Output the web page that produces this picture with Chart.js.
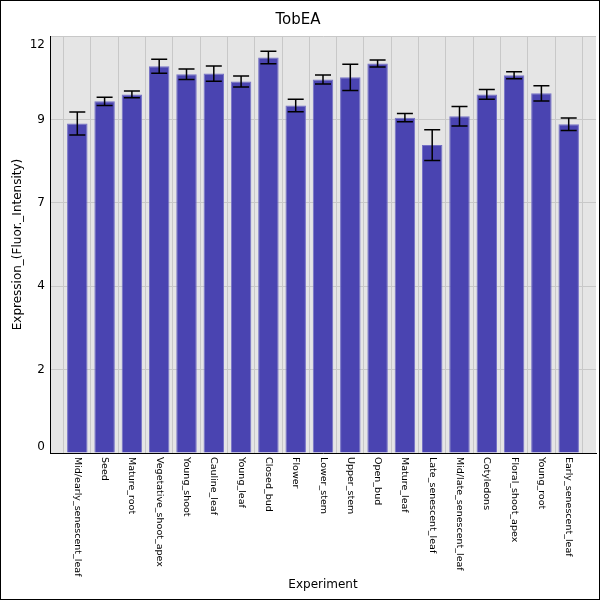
<!DOCTYPE html>
<html>
<head>
<meta charset="utf-8">
<script src="https://cdn.jsdelivr.net/npm/chart.js@4"></script>
<style>
  html, body { margin: 0; padding: 0; background: #fff; }
</style>
</head>
<body>
<canvas id="expression-chart" width="600" height="600"></canvas>
<script>
const experiments = [
    'Mid/early_senescent_leaf', 'Seed', 'Mature_root', 'Vegetative_shoot_apex',
    'Young_shoot', 'Cauline_leaf', 'Young_leaf', 'Closed_bud', 'Flower',
    'Lower_stem', 'Upper_stem', 'Open_bud', 'Mature_leaf', 'Late_senescent_leaf',
    'Mid/late_senescent_leaf', 'Cotyledons', 'Floral_shoot_apex', 'Young_root',
    'Early_senescent_leaf'
];
const expressionValues = [
    9.48, 10.12, 10.32, 11.13, 10.90, 10.92, 10.69, 11.38, 10.00, 10.75,
    10.81, 11.21, 9.65, 8.86, 9.69, 10.32, 10.87, 10.35, 9.46
];
const expressionErrors = [
    0.33, 0.12, 0.10, 0.20, 0.15, 0.22, 0.16, 0.18, 0.18, 0.13,
    0.38, 0.10, 0.12, 0.44, 0.28, 0.14, 0.10, 0.22, 0.18
];
const yTicks = [0, 2.4, 4.8, 7.2, 9.6, 12];

const FONT = 'DejaVu Sans';

// experiments sit at 1..n on a 0..n+1 axis, leaving a free slot at each end
const positions = experiments.map((_, i) => i + 1);

// white page, grey plot area, outer frame
const backdrop = {
    id: 'backdrop',
    beforeDraw(chart) {
        const { ctx, chartArea: a } = chart;
        ctx.save();
        ctx.fillStyle = '#fff';
        ctx.fillRect(0, 0, chart.width, chart.height);
        ctx.fillStyle = '#e5e5e5';
        ctx.fillRect(a.left, a.top, a.right - a.left, a.bottom - a.top);
        ctx.restore();
    },
    afterDraw(chart) {
        const ctx = chart.ctx;
        ctx.save();
        ctx.strokeStyle = '#000';
        ctx.lineWidth = 1;
        ctx.strokeRect(0.5, 0.5, chart.width - 1, chart.height - 1);
        ctx.restore();
    }
};

// tick labels: categories turned clockwise, y values kept inside the plot
const tickLabels = {
    id: 'tickLabels',
    afterDraw(chart) {
        const { ctx, scales: { x, y } } = chart;
        ctx.save();
        ctx.fillStyle = '#000';
        ctx.font = '9.5px "' + FONT + '"';
        ctx.textAlign = 'left';
        ctx.textBaseline = 'middle';
        experiments.forEach((name, i) => {
            ctx.save();
            ctx.translate(x.getPixelForValue(positions[i]), x.top + 4);
            ctx.rotate(Math.PI / 2);
            ctx.fillText(name, 0, 0);
            ctx.restore();
        });

        ctx.font = '12px "' + FONT + '"';
        ctx.textAlign = 'right';
        yTicks.forEach(v => {
            let py = y.getPixelForValue(v);
            py = Math.min(Math.max(py, y.top + 9), y.bottom - 6);
            ctx.fillText(String(Math.floor(v + 1e-9)), y.right - 5, py);
        });
        ctx.restore();
    }
};

const errorBars = {
    id: 'errorBars',
    afterDatasetsDraw(chart) {
        const { ctx, scales: { x, y } } = chart;
        ctx.save();
        ctx.strokeStyle = '#000';
        ctx.lineWidth = 1.5;
        expressionValues.forEach((v, i) => {
            const px = x.getPixelForValue(positions[i]);
            const hi = y.getPixelForValue(v + expressionErrors[i]);
            const lo = y.getPixelForValue(v - expressionErrors[i]);
            ctx.beginPath();
            ctx.moveTo(px, hi);
            ctx.lineTo(px, lo);
            ctx.moveTo(px - 8, hi);
            ctx.lineTo(px + 8, hi);
            ctx.moveTo(px - 8, lo);
            ctx.lineTo(px + 8, lo);
            ctx.stroke();
        });
        ctx.restore();
    }
};

const ctx = document.getElementById('expression-chart').getContext('2d');
const expressionChart = new Chart(ctx, {
    type: 'bar',
    data: {
        datasets: [{
            label: 'TobEA',
            data: expressionValues.map((v, i) => ({ x: positions[i], y: v })),
            backgroundColor: '#4a44b1',
            borderColor: '#7571c6',
            borderWidth: 1,
            barPercentage: 0.75,
            categoryPercentage: 1
        }]
    },
    options: {
        responsive: false,
        animation: false,
        devicePixelRatio: 1,
        layout: { padding: { right: 4 } },
        plugins: {
            legend: { display: false },
            tooltip: { enabled: false },
            title: {
                display: true,
                text: 'TobEA',
                color: '#000',
                font: { family: FONT, size: 15, weight: 'normal' },
                padding: { top: 11, bottom: 7 }
            }
        },
        scales: {
            x: {
                type: 'linear',
                min: 0,
                max: experiments.length + 1,
                offset: false,
                afterBuildTicks(scale) {
                    scale.ticks = positions.map(p => ({ value: p }));
                },
                grid: { color: '#c8c8c8', drawTicks: false },
                border: { color: '#000', width: 1 },
                ticks: { display: false },
                title: {
                    display: true,
                    text: 'Experiment',
                    color: '#000',
                    font: { family: FONT, size: 12 },
                    padding: { top: 8, bottom: 8 }
                },
                afterFit(scale) { scale.height = 147; }
            },
            y: {
                min: 0,
                max: 12,
                afterBuildTicks(scale) {
                    scale.ticks = yTicks.map(v => ({ value: v }));
                },
                grid: { color: '#c8c8c8', drawTicks: false },
                border: { color: '#000', width: 1 },
                ticks: { display: false },
                title: {
                    display: true,
                    text: 'Expression_(Fluor._Intensity)',
                    color: '#000',
                    font: { family: FONT, size: 12 },
                    padding: { top: 11, bottom: 0 }
                },
                afterFit(scale) { scale.width = 50; }
            }
        }
    },
    plugins: [backdrop, errorBars, tickLabels]
});
</script>
</body>
</html>
